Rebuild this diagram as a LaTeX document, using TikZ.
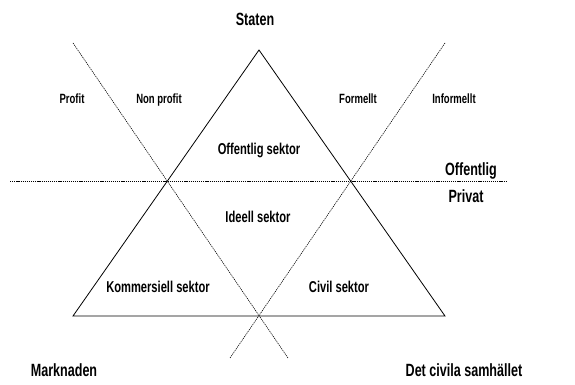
\documentclass[tikz,border=0pt]{standalone}
\usepackage{fontspec}
\setmainfont{Liberation Sans}[FakeStretch=0.71]
\usetikzlibrary{positioning}
\tikzset{
  side/.style={line width=0.8pt},
  cut/.style={line width=0.6pt, dash pattern=on 1.2pt off 0.9pt},
  big/.style={anchor=base, inner sep=0pt, font=\bfseries\fontsize{17.7}{20}\selectfont},
  sector/.style={anchor=base, inner sep=0pt, font=\bfseries\fontsize{15.7}{18}\selectfont},
  small/.style={anchor=base, inner sep=0pt, font=\bfseries\fontsize{13.4}{16}\selectfont}
}

\begin{document}
\begin{tikzpicture}[x=1pt, y=-1pt]
  \useasboundingbox (0,0) rectangle (575,385);
  % corners of the triangle
  \coordinate (top) at (259,50);
  \coordinate (bl) at (73,316);
  \coordinate (br) at (445,316);
  % ends of the dashed cuts
  \coordinate (hl) at (10,181);   \coordinate (hr) at (506,181);
  \coordinate (ltop) at (73,43);  \coordinate (lbot) at (288,358);
  \coordinate (rtop) at (445,43); \coordinate (rbot) at (230,358);
  % triangle
  \draw[side] (top) -- (bl) -- (br) -- cycle;
  % cuts
  \draw[cut] (hl) -- (hr);
  \draw[cut] (ltop) -- (lbot);
  \draw[cut] (rtop) -- (rbot);
  % corners
  \node[big] (staten) at (255,26) {Staten};
  \node[big] (marknaden) at (64,376) {Marknaden};
  \node[big] (civsam) at (464,376) {Det civila samhället};
  % public / private
  \node[big] (offentlig) at (471,175) {Offentlig};
  \node[big] (privat) at (466,202) {Privat};
  % profit / formal
  \node[small] (profit) at (72,104) {Profit};
  \node[small] (nonprofit) at (159,104) {Non profit};
  \node[small] (formellt) at (358,104) {Formellt};
  \node[small] (informellt) at (454,104) {Informellt};
  % sectors
  \node[sector] (offsek) at (259,154) {Offentlig sektor};
  \node[sector] (ideell) at (258,222) {Ideell sektor};
  \node[sector] (kommers) at (158,292) {Kommersiell sektor};
  \node[sector] (civil) at (339,292) {Civil sektor};
\end{tikzpicture}
\end{document}
